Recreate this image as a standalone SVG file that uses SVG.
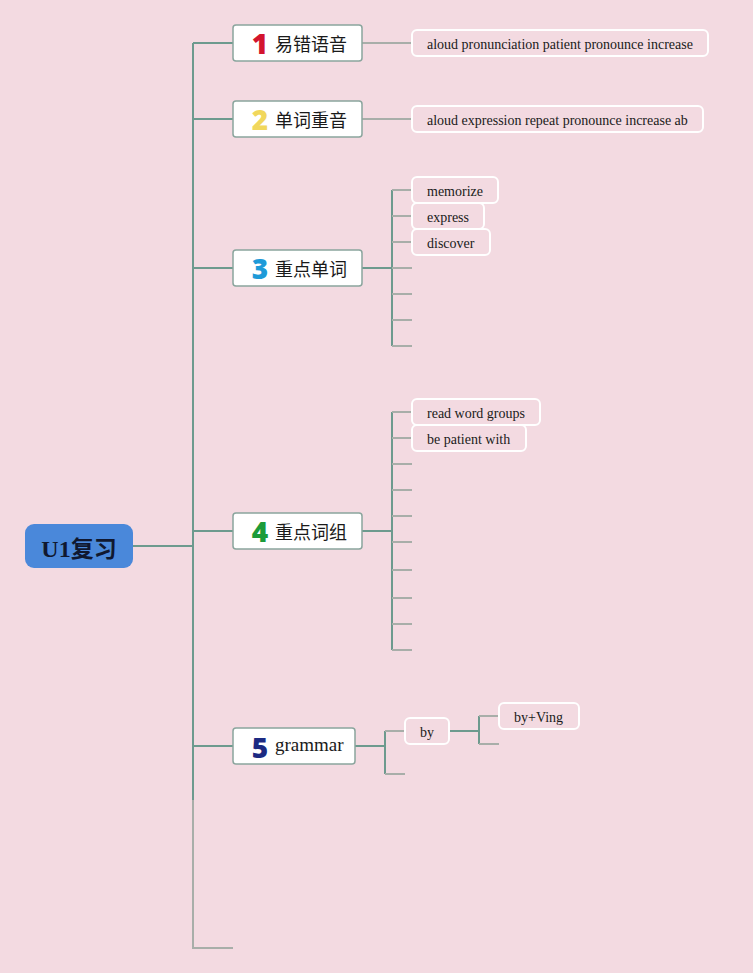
<svg xmlns="http://www.w3.org/2000/svg" width="753" height="973" viewBox="0 0 753 973">
<style>
.bg{fill:#f3dae1}
.ln{fill:none;stroke:#6d9a8e;stroke-width:2}
.lg{fill:none;stroke:#a8aea9;stroke-width:2}
.topic{fill:#ffffff;stroke:#8aa59d;stroke-width:1.5}
.leaf{fill:none;stroke:#ffffff;stroke-width:2}
.num{font-family:"Noto Sans","DejaVu Sans",sans-serif;font-weight:900;font-size:28px}
.zh{font-family:"Noto Sans CJK SC","Noto Sans",sans-serif;font-size:18px;fill:#1a1a1a}
.en{font-family:"Liberation Serif",serif;font-size:19px;fill:#1a1a1a}
.lt{font-family:"Liberation Serif",serif;font-size:14px;fill:#1a1a1a}
</style>
<rect class="bg" x="0" y="0" width="753" height="973"/>
<g id="connectors">
<path class="ln" d="M133,546 H193 M193,43 V800"/>
<path class="lg" d="M193,800 V948 H233"/>
<path class="ln" d="M193,43 H233 M193,119 H233 M193,268 H233 M193,531 H233 M193,746 H233"/>
<path class="lg" d="M362,43 H412 M362,119 H412"/>
<path class="ln" d="M362,268 H392 M392,190 V346"/>
<path class="lg" d="M392,190 H412 M392,216 H412 M392,242 H412 M392,268 H412 M392,294 H412 M392,320 H412 M392,346 H412"/>
<path class="ln" d="M362,531 H392 M392,412 V650"/>
<path class="lg" d="M392,412 H412 M392,438 H412 M392,464 H412 M392,490 H412 M392,516 H412 M392,542 H412 M392,570 H412 M392,598 H412 M392,624 H412 M392,650 H412"/>
<path class="ln" d="M355,746 H385 M385,731 V774"/>
<path class="lg" d="M385,731 H405 M385,774 H405"/>
<path class="ln" d="M449,731 H479 M479,716 V744"/>
<path class="lg" d="M479,716 H499 M479,744 H499"/>
</g>
<g id="root">
<rect x="25" y="524" width="108" height="44" rx="9" fill="#4a88da"/>
<text x="79" y="557" text-anchor="middle" font-family="'Liberation Serif','Noto Sans CJK SC',serif" font-weight="bold" font-size="24" fill="#101830">U1<tspan font-family="'Noto Sans CJK SC',sans-serif" font-size="23">复习</tspan></text>
</g>
<g id="t1">
<rect class="topic" x="233" y="25" width="129" height="36" rx="3"/>
<text class="num" x="260" y="54" text-anchor="middle" fill="#d3142e">1</text>
<text class="zh" x="275" y="51">易错语音</text>
</g>
<g id="t2">
<rect class="topic" x="233" y="101" width="129" height="36" rx="3"/>
<text class="num" x="260" y="130" text-anchor="middle" fill="#f1d75c">2</text>
<text class="zh" x="275" y="127">单词重音</text>
</g>
<g id="t3">
<rect class="topic" x="233" y="250" width="129" height="36" rx="3"/>
<text class="num" x="260" y="279" text-anchor="middle" fill="#1e9ad8">3</text>
<text class="zh" x="275" y="276">重点单词</text>
</g>
<g id="t4">
<rect class="topic" x="233" y="513" width="129" height="36" rx="3"/>
<text class="num" x="260" y="542" text-anchor="middle" fill="#1c9b3a">4</text>
<text class="zh" x="275" y="539">重点词组</text>
</g>
<g id="t5">
<rect class="topic" x="233" y="728" width="122" height="36" rx="3"/>
<text class="num" x="260" y="758" text-anchor="middle" fill="#1c2a82">5</text>
<text class="en" x="275" y="751">grammar</text>
</g>
<g id="l1">
<rect class="leaf" x="412" y="30" width="296" height="26" rx="5"/>
<text class="lt" x="427" y="49">aloud pronunciation patient pronounce increase</text>
</g>
<g id="l2">
<rect class="leaf" x="412" y="106" width="291" height="26" rx="5"/>
<text class="lt" x="427" y="125">aloud expression repeat pronounce increase ab</text>
</g>
<g id="l3">
<rect class="leaf" x="412" y="177" width="86" height="26" rx="5"/>
<text class="lt" x="427" y="196">memorize</text>
</g>
<g id="l4">
<rect class="leaf" x="412" y="203" width="72" height="26" rx="5"/>
<text class="lt" x="427" y="222">express</text>
</g>
<g id="l5">
<rect class="leaf" x="412" y="229" width="78" height="26" rx="5"/>
<text class="lt" x="427" y="248">discover</text>
</g>
<g id="l6">
<rect class="leaf" x="412" y="399" width="128" height="26" rx="5"/>
<text class="lt" x="427" y="418">read word groups</text>
</g>
<g id="l7">
<rect class="leaf" x="412" y="425" width="114" height="26" rx="5"/>
<text class="lt" x="427" y="444">be patient with</text>
</g>
<g id="l8">
<rect class="leaf" x="405" y="718" width="44" height="26" rx="5"/>
<text class="lt" x="427" y="737" text-anchor="middle">by</text>
</g>
<g id="l9">
<rect class="leaf" x="499" y="703" width="80" height="26" rx="5"/>
<text class="lt" x="514" y="722">by+Ving</text>
</g>
</svg>
